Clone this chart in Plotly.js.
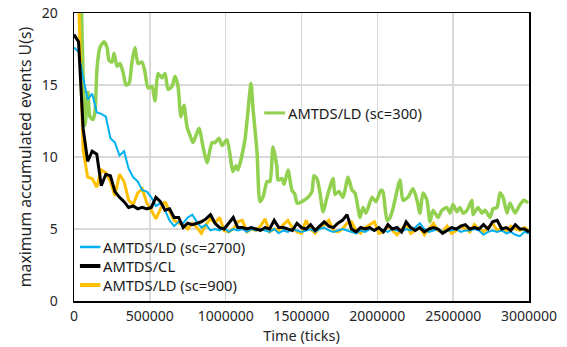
<!DOCTYPE html>
<html>
<head>
<meta charset="utf-8">
<script src="https://cdn.plot.ly/plotly-3.0.1.min.js"></script>
<style>html,body{margin:0;padding:0;background:#fff;}#chart{width:567px;height:347px;}</style>
</head>
<body>
<div id="chart"></div>
<script>
// ---- data ----
const seriesNames = ["AMTDS/LD (sc=300)", "AMTDS/LD (sc=2700)", "AMTDS/CL", "AMTDS/LD (sc=900)"];

// sampled every 30000 ticks from 0 to 3000000
const timeStart = 0;
const timeStep = 30000;

const cl = [18.5,18.0,12.0,9.7,10.4,10.2,8.0,8.8,8.7,7.6,
  7.2,6.9,6.5,6.6,6.4,6.5,6.4,6.5,7.2,6.9,
  6.3,6.4,5.8,5.8,5.1,5.4,5.3,5.4,5.5,5.7,
  6.0,5.4,5.1,5.0,5.4,5.8,5.1,5.1,5.0,5.1,
  5.0,4.9,5.1,5.0,5.6,5.1,5.1,5.0,4.9,5.4,
  5.1,5.0,5.3,4.9,5.2,5.5,5.2,5.1,5.4,5.6,
  6.0,5.0,4.8,5.1,5.0,5.1,4.9,5.1,4.8,5.3,
  5.0,5.1,4.8,5.5,5.1,4.9,5.1,4.8,5.0,5.1,
  5.0,4.7,4.9,5.1,5.0,5.2,5.3,5.0,5.1,5.0,
  5.3,5.0,5.5,5.6,5.0,5.1,4.9,5.3,5.0,5.0,4.8];

const ld2700 = [17.6,17.3,15.5,14.0,14.4,13.1,13.0,12.8,11.3,11.0,
  10.1,10.4,9.2,8.6,8.3,7.7,7.6,7.2,6.6,6.8,
  6.3,5.6,5.2,5.5,5.4,5.8,6.0,5.5,5.1,5.3,
  4.9,5.0,4.9,5.1,4.8,5.0,4.9,5.0,4.8,5.0,
  4.9,5.0,4.9,4.8,5.0,4.7,4.9,4.8,5.0,4.9,
  4.8,4.9,5.0,4.8,5.0,5.1,4.9,4.8,4.9,5.0,
  4.9,4.8,4.7,4.9,4.8,5.0,4.9,5.1,4.9,4.8,
  5.0,4.9,4.8,5.0,4.9,5.1,5.4,5.0,4.8,4.9,
  5.0,4.8,4.9,4.9,5.0,4.8,4.9,4.9,5.0,4.9,
  4.6,4.8,4.9,4.8,4.9,4.7,4.8,4.6,4.5,4.8,4.7];

const ld900 = [26.0,21.0,10.5,8.6,8.5,7.9,9.1,8.9,8.3,7.3,
  8.8,8.3,7.0,6.7,7.5,7.8,6.8,6.3,5.7,6.4,
  6.9,6.3,5.6,5.4,5.3,5.0,5.4,5.1,4.7,5.3,
  5.7,5.4,5.8,4.9,4.8,5.0,5.5,5.6,4.8,5.0,
  4.9,5.2,5.7,4.8,5.0,4.9,5.3,5.6,5.1,4.8,
  4.7,5.6,5.0,4.7,5.1,5.3,5.6,4.9,4.8,5.0,
  5.4,5.5,4.9,4.7,5.1,5.3,5.5,4.7,4.8,5.2,
  4.9,4.6,5.0,5.3,4.7,4.9,5.1,4.6,5.0,5.4,
  4.9,4.8,5.2,4.7,4.9,5.2,5.0,4.8,5.3,5.0,
  4.8,5.1,5.4,4.9,5.1,4.8,5.2,5.0,4.9,5.1,4.9];

// sc=300 series, traced at its own time points
const ld300Time = [46000,73000,92000,105000,125000,138000,152000,171000,198000,218000,
  231000,251000,264000,284000,303000,323000,343000,363000,382000,402000,
  422000,448000,468000,488000,514000,534000,554000,580000,600000,620000,
  646000,666000,686000,705000,725000,745000,765000,785000,824000,851000,
  877000,910000,930000,956000,976000,1009000,1048000,1068000,1081000,1127000,
  1167000,1180000,1207000,1226000,1246000,1273000,1292000,1312000,1338000,1345000,
  1371000,1385000,1411000,1437000,1457000,1470000,1503000,1543000,1569000,1582000,
  1602000,1622000,1642000,1668000,1708000,1721000,1747000,1774000,1807000,1833000,
  1853000,1886000,1905000,1925000,1965000,1991000,2024000,2037000,2064000,2084000,
  2103000,2149000,2169000,2202000,2235000,2262000,2281000,2301000,2327000,2347000,
  2367000,2400000,2426000,2459000,2479000,2499000,2525000,2545000,2565000,2591000,
  2624000,2631000,2664000,2690000,2710000,2743000,2763000,2789000,2809000,2829000,
  2855000,2875000,2908000,2941000,2967000,2993000];
const ld300 = [22.0,12.2,14.5,12.8,12.6,13.1,16.2,17.6,18.0,17.6,
  16.7,16.6,17.2,16.3,16.5,15.9,15.0,15.1,16.6,17.6,
  16.5,16.6,15.9,14.8,14.9,13.9,15.8,15.5,15.8,14.7,
  14.9,15.6,14.9,12.8,13.6,12.1,11.5,11.0,12.0,10.7,
  9.6,11.0,11.0,11.3,10.8,11.2,9.0,9.4,9.1,11.2,
  15.1,13.4,10.3,6.9,7.2,8.3,8.3,10.7,9.3,8.4,
  8.5,8.1,9.1,7.7,7.4,6.8,6.9,7.2,7.6,8.7,
  8.5,7.5,6.2,7.2,8.5,7.4,7.6,7.2,8.6,7.7,
  7.5,5.8,6.5,6.1,7.2,6.9,7.7,7.6,5.6,5.8,
  6.4,8.4,7.0,7.2,7.8,7.0,6.1,7.5,7.0,5.5,
  6.3,5.8,6.3,6.5,6.1,6.7,6.2,6.5,6.1,6.3,
  7.0,6.0,6.5,6.1,6.3,5.8,6.4,6.5,7.5,7.2,
  6.1,6.8,6.1,6.7,7.0,6.8];

const xTicks = [0,500000,1000000,1500000,2000000,2500000,3000000];
const yTicks = [0,5,10,15,20];

// ---- styles ----
const colGreen = "#92D050", colBlue = "#00B0F0", colBlack = "#000000", colYellow = "#FFC000";
const FONT = "Noto Sans, Open Sans, sans-serif";

const traces = [
  {x: ld300Time, y: ld300, name: seriesNames[0], type: "scatter", mode: "lines",
   line: {color: colGreen, width: 3.5, shape: "spline", smoothing: 0.6}, showlegend: false},
  {x0: timeStart, dx: timeStep, y: ld900, name: seriesNames[3], type: "scatter", mode: "lines",
   line: {color: colYellow, width: 3}, showlegend: false},
  {x0: timeStart, dx: timeStep, y: ld2700, name: seriesNames[1], type: "scatter", mode: "lines",
   line: {color: colBlue, width: 2}, showlegend: false},
  {x0: timeStart, dx: timeStep, y: cl, name: seriesNames[2], type: "scatter", mode: "lines",
   line: {color: colBlack, width: 3}, showlegend: false}
];

// manual legend entries (paper coordinates)
const legendItems = [
  {name: seriesNames[0], color: colGreen, w: 3, x0: 0.418, x1: 0.464, tx: 0.466, y: 0.653},
  {name: seriesNames[1], color: colBlue, w: 2.5, x0: 0.013, x1: 0.058, tx: 0.06, y: 0.1875},
  {name: seriesNames[2], color: colBlack, w: 4, x0: 0.013, x1: 0.058, tx: 0.06, y: 0.1215},
  {name: seriesNames[3], color: colYellow, w: 4, x0: 0.013, x1: 0.058, tx: 0.06, y: 0.0556}
];

const shapes = legendItems.map(it => ({type: "line", xref: "paper", yref: "paper",
  x0: it.x0, x1: it.x1, y0: it.y, y1: it.y, line: {color: it.color, width: it.w}}));
const annotations = legendItems.map(it => ({xref: "paper", yref: "paper", x: it.tx, y: it.y,
  xanchor: "left", yanchor: "middle", text: it.name, showarrow: false,
  font: {family: FONT, size: 14.7, color: "#1a1a1a"}}));

const layout = {
  width: 567, height: 347,
  margin: {l: 74, r: 38, t: 13, b: 46, pad: 0},
  paper_bgcolor: "#ffffff", plot_bgcolor: "#ffffff",
  font: {family: FONT, size: 14, color: "#262626"},
  showlegend: false,
  xaxis: {
    range: [0, 3000000], tickvals: xTicks, ticktext: xTicks.map(String),
    showgrid: true, gridcolor: "#d9d9d9", gridwidth: 1.5, zeroline: false,
    showline: true, linecolor: "#000", linewidth: 1.5, mirror: true,
    ticks: "outside", ticklen: 2, tickcolor: "rgba(0,0,0,0)",
    tickfont: {family: FONT, size: 14, color: "#262626"},
    title: {text: "Time (ticks)", font: {family: FONT, size: 14.5, color: "#262626"}, standoff: 0}
  },
  yaxis: {
    range: [0, 20], tickvals: yTicks,
    showgrid: true, gridcolor: "#d9d9d9", gridwidth: 1.5, zeroline: false,
    showline: true, linecolor: "#000", linewidth: 1.5, mirror: true,
    ticks: "outside", ticklen: 12, tickcolor: "rgba(0,0,0,0)",
    tickfont: {family: FONT, size: 14, color: "#262626"},
    title: {text: "maximum accumulated events U(s)", font: {family: FONT, size: 15.8, color: "#262626"}, standoff: 6}
  },
  shapes: shapes,
  annotations: annotations
};

Plotly.newPlot("chart", traces, layout, {displayModeBar: false, staticPlot: true});
</script>
</body>
</html>
